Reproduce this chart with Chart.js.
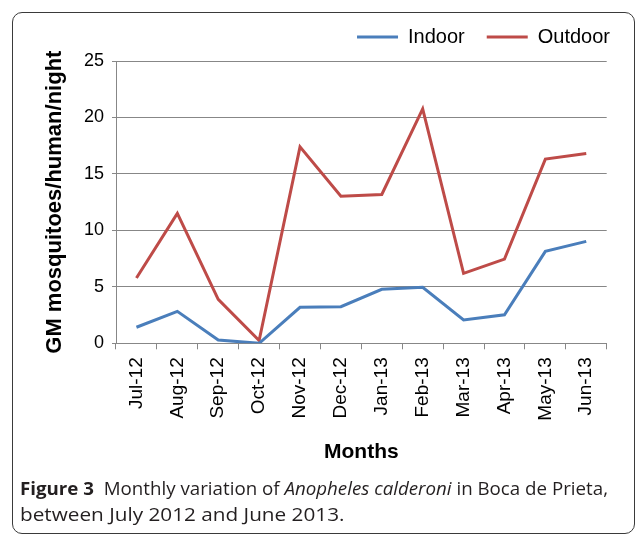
<!DOCTYPE html>
<html>
<head>
<meta charset="utf-8">
<script src="https://cdn.jsdelivr.net/npm/chart.js@4/dist/chart.umd.min.js"></script>
<style>
  html, body { margin: 0; padding: 0; background: #fff; }
  body { width: 636px; height: 534px; position: relative; overflow: hidden; }
  #frame { position: absolute; left: 12px; top: 12px; width: 623px; height: 522px; box-sizing: border-box;
           border: 1px solid #3a3a3a; border-radius: 10px; }
  #wrap { position: absolute; left: 0; top: 0; width: 636px; height: 480px; }
  .cap { position: absolute; left: 20px; font-family: 'Open Sans', sans-serif; white-space: nowrap;
         font-size: 18.5px; line-height: 26px; color: #231f20; transform-origin: 0 50%; display: inline-block; }
  .cap b { font-weight: 700; }
</style>
</head>
<body>
<div id="frame"></div>
<div id="wrap"><canvas id="c" width="636" height="480"></canvas></div>
<div class="cap" id="l1" style="top:475px"><b>Figure 3</b>&nbsp; Monthly variation of <i>Anopheles calderoni</i> in Boca de Prieta,</div>
<div class="cap" id="l2" style="top:501px">between July 2012 and June 2013.</div>
<script>
const months = ['Jul-12','Aug-12','Sep-12','Oct-12','Nov-12','Dec-12','Jan-13','Feb-13','Mar-13','Apr-13','May-13','Jun-13'];
const indoor = [1.42, 2.83, 0.29, 0.0, 3.19, 3.24, 4.78, 4.96, 2.06, 2.53, 8.14, 9.03];
const outdoor = [5.78, 11.5, 3.89, 0.24, 17.4, 13.03, 13.18, 20.76, 6.19, 7.46, 16.31, 16.81];
const yTicks = [0, 5, 10, 15, 20, 25];

// fit caption lines to the reference widths
[['l1', 588], ['l2', 325]].forEach(([id, w]) => {
  const el = document.getElementById(id);
  el.style.transform = 'scaleX(' + (w / el.offsetWidth) + ')';
});

const FONT = "'Liberation Sans', Arial, sans-serif";
const GRID = '#878787';

new Chart(document.getElementById('c'), {
  type: 'line',
  data: {
    labels: months,
    datasets: [
      { label: 'Indoor', data: indoor, borderColor: '#4a7ebb', backgroundColor: '#4a7ebb', borderWidth: 3, pointRadius: 0, tension: 0, fill: false },
      { label: 'Outdoor', data: outdoor, borderColor: '#be4b48', backgroundColor: '#be4b48', borderWidth: 3, pointRadius: 0, tension: 0, fill: false }
    ]
  },
  options: {
    responsive: false,
    animation: false,
    layout: { padding: { left: 38, right: 4, top: 5, bottom: 11.4 } },
    plugins: {
      legend: {
        position: 'top',
        align: 'end',
        labels: {
          color: '#000',
          font: { family: FONT, size: 20 },
          boxWidth: 41,
          boxHeight: 3,
          padding: 22,
          generateLabels: (chart) => Chart.defaults.plugins.legend.labels.generateLabels(chart).map(l => Object.assign(l, { lineWidth: 0, fillStyle: l.strokeStyle }))
        }
      },
      tooltip: { enabled: false }
    },
    scales: {
      x: {
        type: 'category',
        offset: true,
        grid: { display: true, drawOnChartArea: false, drawTicks: true, tickLength: 6, color: GRID, offset: true },
        border: { display: true, color: GRID, width: 1 },
        ticks: { color: '#000', font: { family: FONT, size: 19 }, maxRotation: 90, minRotation: 90, padding: 8, autoSkip: false },
        title: { display: true, text: 'Months', color: '#000', font: { family: FONT, size: 21, weight: 'bold' }, padding: { top: 4, bottom: 4 } },
        afterFit: (s) => { s.height = 125.3; }
      },
      y: {
        min: 0, max: 25,
        afterBuildTicks: (s) => { s.ticks = yTicks.map(v => ({ value: v })); },
        grid: { color: GRID, lineWidth: 1, drawTicks: true, tickLength: 4 },
        border: { display: true, color: GRID, width: 1 },
        ticks: { color: '#000', font: { family: FONT, size: 18 }, padding: 8 },
        title: { display: true, text: 'GM mosquitoes/human/night', color: '#000', font: { family: FONT, size: 22, weight: 'bold' }, padding: { top: 4, bottom: 4 } },
        afterFit: (s) => { s.width = 78; }
      },
      yR: {
        type: 'linear', position: 'right', display: true,
        grid: { display: false, drawTicks: false }, border: { display: false }, ticks: { display: false },
        afterFit: (s) => { s.width = 25.3; }
      },
      xT: {
        type: 'linear', position: 'top', display: true,
        grid: { display: false, drawTicks: false }, border: { display: false }, ticks: { display: false },
        afterFit: (s) => { s.height = 4; }
      }
    }
  }
});
</script>
</body>
</html>
